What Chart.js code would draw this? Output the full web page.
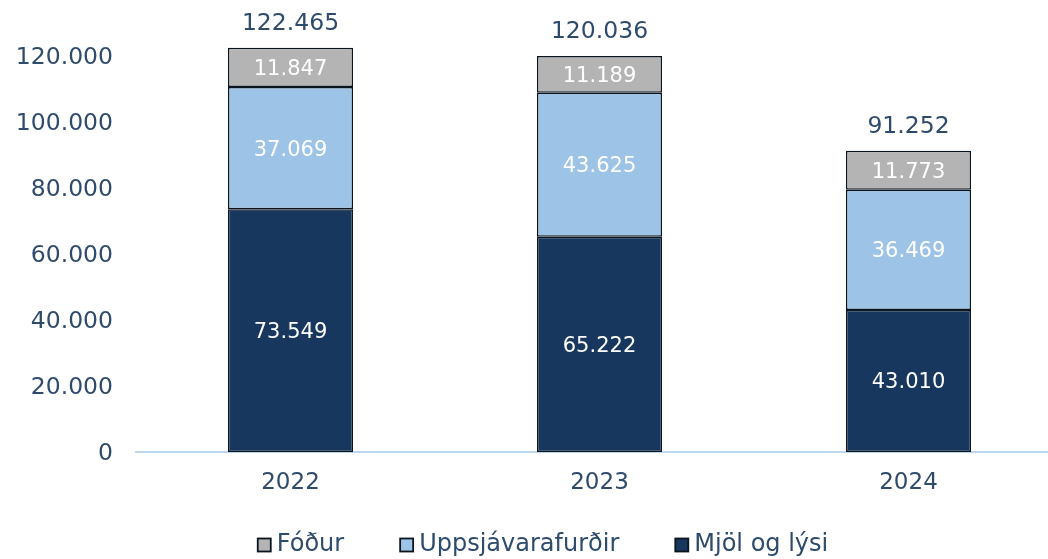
<!DOCTYPE html>
<html><head><meta charset="utf-8">
<script src="https://cdn.jsdelivr.net/npm/chart.js@4.4.1/dist/chart.umd.min.js"></script>
<style>
html,body{margin:0;padding:0;overflow:hidden;background:#fff;width:1048px;height:559px}
#wrap{width:1063px;height:559px;position:relative}
</style></head>
<body><div id="wrap"><canvas id="c"></canvas></div>
<script>
const categories = ['2022', '2023', '2024'];
const seriesNames = ['Mjöl og lýsi', 'Uppsjávarafurðir', 'Fóður'];
const mjolOgLysi = [73549, 65222, 43010];
const uppsjavarafurdir = [37069, 43625, 36469];
const fodur = [11847, 11189, 11773];
const yTickValues = [0, 20000, 40000, 60000, 80000, 100000, 120000];

const FONT = "'DejaVu Sans', Verdana, sans-serif";
const TEXT = '#2f4b6c';
const EDGE = '#0a1520';
const COLORS = ['#17375e', '#9dc3e6', '#b4b4b4'];

function fmt(v) {
  return String(Math.round(v)).replace(/\B(?=(\d{3})+(?!\d))/g, '.');
}

Chart.defaults.font.family = FONT;
Chart.defaults.color = TEXT;

const labelPlugin = {
  id: 'segLabels',
  afterDatasetsDraw(chart) {
    const ctx = chart.ctx;
    ctx.save();
    ctx.textAlign = 'center';
    ctx.textBaseline = 'middle';
    chart.data.datasets.forEach((ds, di) => {
      const meta = chart.getDatasetMeta(di);
      meta.data.forEach((bar, i) => {
        ctx.font = '21px ' + FONT;
        ctx.fillStyle = '#ffffff';
        ctx.fillText(fmt(ds.data[i]), bar.x, (bar.y + bar.base) / 2 + 2);
      });
    });
    const last = chart.getDatasetMeta(chart.data.datasets.length - 1);
    last.data.forEach((bar, i) => {
      const total = chart.data.datasets.reduce((s, d) => s + d.data[i], 0);
      ctx.font = '23.5px ' + FONT;
      ctx.fillStyle = TEXT;
      ctx.fillText(fmt(total), bar.x, bar.y - 24);
    });
    ctx.restore();
  }
};

const legendPlugin = {
  id: 'customLegend',
  afterDraw(chart) {
    const ctx = chart.ctx;
    const ds = chart.data.datasets.slice().reverse();
    ctx.save();
    ctx.font = '24px ' + FONT;
    ctx.textBaseline = 'middle';
    ctx.textAlign = 'left';
    const box = 13, gapText = 6, gapItem = 56;
    const widths = ds.map(d => box + gapText + ctx.measureText(d.label).width);
    const total = widths.reduce((a, b) => a + b, 0) + gapItem * (ds.length - 1);
    let x = 543 - total / 2;
    const y = 545;
    ds.forEach((d, i) => {
      ctx.fillStyle = d.backgroundColor;
      ctx.fillRect(x, y - box / 2, box, box);
      ctx.lineWidth = 1.8;
      ctx.strokeStyle = EDGE;
      ctx.strokeRect(x, y - box / 2, box, box);
      ctx.fillStyle = TEXT;
      ctx.fillText(d.label, x + box + gapText, y);
      x += widths[i] + gapItem;
    });
    ctx.restore();
  }
};

new Chart(document.getElementById('c'), {
  type: 'bar',
  data: {
    labels: categories,
    datasets: [
      { label: seriesNames[0], data: mjolOgLysi, backgroundColor: COLORS[0], borderColor: EDGE, borderWidth: 1.5, borderSkipped: false },
      { label: seriesNames[1], data: uppsjavarafurdir, backgroundColor: COLORS[1], borderColor: EDGE, borderWidth: 1.5, borderSkipped: false },
      { label: seriesNames[2], data: fodur, backgroundColor: COLORS[2], borderColor: EDGE, borderWidth: 1.5, borderSkipped: false }
    ]
  },
  options: {
    responsive: true,
    maintainAspectRatio: false,
    animation: false,
    layout: { padding: { top: 23, left: 0, right: 0, bottom: 57 } },
    datasets: { bar: { categoryPercentage: 1.0, barPercentage: 0.405 } },
    plugins: {
      tooltip: { enabled: false },
      legend: { display: false }
    },
    scales: {
      x: {
        stacked: true,
        grid: { display: false, drawTicks: false },
        border: { display: true, color: '#bdd7ee', width: 2 },
        ticks: { padding: 17, color: TEXT, font: { size: 23 } },
        afterFit: s => { s.height = 50; }
      },
      y: {
        stacked: true,
        min: 0, max: 130000,
        grid: { display: false, drawTicks: false },
        border: { display: false },
        afterBuildTicks: s => { s.ticks = yTickValues.map(v => ({ value: v })); },
        afterFit: s => { s.width = 136; s.paddingTop = 0; s.paddingBottom = 0; },
        ticks: { padding: 23, labelOffset: 2, color: TEXT, font: { size: 23.5 }, callback: v => fmt(v) }
      }
    }
  },
  plugins: [labelPlugin, legendPlugin]
});
</script>
</body></html>
